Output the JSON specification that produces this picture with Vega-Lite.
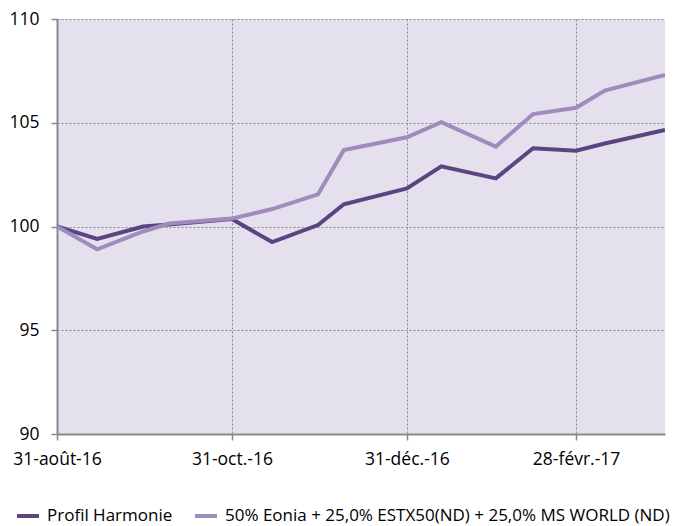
{
  "$schema": "https://vega.github.io/schema/vega-lite/v6.json",
  "autosize": {"type": "none"},
  "width": 608,
  "height": 415,
  "padding": {"left": 57, "top": 19, "right": 24, "bottom": 92},
  "background": "white",
  "config": {
    "view": {"fill": "#e4e0ee", "stroke": null},
    "font": "Open Sans"
  },
  "data": {
    "values": [
      {"date": "2016-08-31", "serie": "Profil Harmonie", "v": 100.0},
      {"date": "2016-09-14", "serie": "Profil Harmonie", "v": 99.4},
      {"date": "2016-09-30", "serie": "Profil Harmonie", "v": 100.0},
      {"date": "2016-10-09", "serie": "Profil Harmonie", "v": 100.1},
      {"date": "2016-10-31", "serie": "Profil Harmonie", "v": 100.36},
      {"date": "2016-11-14", "serie": "Profil Harmonie", "v": 99.25},
      {"date": "2016-11-30", "serie": "Profil Harmonie", "v": 100.07},
      {"date": "2016-12-09", "serie": "Profil Harmonie", "v": 101.07},
      {"date": "2016-12-31", "serie": "Profil Harmonie", "v": 101.84},
      {"date": "2017-01-12", "serie": "Profil Harmonie", "v": 102.9},
      {"date": "2017-01-31", "serie": "Profil Harmonie", "v": 102.32},
      {"date": "2017-02-13", "serie": "Profil Harmonie", "v": 103.77},
      {"date": "2017-02-28", "serie": "Profil Harmonie", "v": 103.65},
      {"date": "2017-03-10", "serie": "Profil Harmonie", "v": 104.0},
      {"date": "2017-03-31", "serie": "Profil Harmonie", "v": 104.65},
      {"date": "2016-08-31", "serie": "50% Eonia + 25,0% ESTX50(ND) + 25,0% MS WORLD (ND)", "v": 100.0},
      {"date": "2016-09-14", "serie": "50% Eonia + 25,0% ESTX50(ND) + 25,0% MS WORLD (ND)", "v": 98.9},
      {"date": "2016-09-30", "serie": "50% Eonia + 25,0% ESTX50(ND) + 25,0% MS WORLD (ND)", "v": 99.76},
      {"date": "2016-10-09", "serie": "50% Eonia + 25,0% ESTX50(ND) + 25,0% MS WORLD (ND)", "v": 100.14},
      {"date": "2016-10-31", "serie": "50% Eonia + 25,0% ESTX50(ND) + 25,0% MS WORLD (ND)", "v": 100.38},
      {"date": "2016-11-14", "serie": "50% Eonia + 25,0% ESTX50(ND) + 25,0% MS WORLD (ND)", "v": 100.84},
      {"date": "2016-11-30", "serie": "50% Eonia + 25,0% ESTX50(ND) + 25,0% MS WORLD (ND)", "v": 101.55},
      {"date": "2016-12-09", "serie": "50% Eonia + 25,0% ESTX50(ND) + 25,0% MS WORLD (ND)", "v": 103.68},
      {"date": "2016-12-31", "serie": "50% Eonia + 25,0% ESTX50(ND) + 25,0% MS WORLD (ND)", "v": 104.3},
      {"date": "2017-01-12", "serie": "50% Eonia + 25,0% ESTX50(ND) + 25,0% MS WORLD (ND)", "v": 105.03},
      {"date": "2017-01-31", "serie": "50% Eonia + 25,0% ESTX50(ND) + 25,0% MS WORLD (ND)", "v": 103.85},
      {"date": "2017-02-13", "serie": "50% Eonia + 25,0% ESTX50(ND) + 25,0% MS WORLD (ND)", "v": 105.42},
      {"date": "2017-02-28", "serie": "50% Eonia + 25,0% ESTX50(ND) + 25,0% MS WORLD (ND)", "v": 105.72},
      {"date": "2017-03-10", "serie": "50% Eonia + 25,0% ESTX50(ND) + 25,0% MS WORLD (ND)", "v": 106.55},
      {"date": "2017-03-31", "serie": "50% Eonia + 25,0% ESTX50(ND) + 25,0% MS WORLD (ND)", "v": 107.3}
    ]
  },
  "mark": {"type": "line", "strokeWidth": 4, "strokeJoin": "miter", "clip": true},
  "encoding": {
    "x": {
      "field": "date",
      "type": "temporal",
      "scale": {
        "type": "utc",
        "domain": [
          {"year": 2016, "month": 8, "date": 31, "utc": true},
          {"year": 2017, "month": 3, "date": 31, "utc": true}
        ]
      },
      "axis": {
        "title": null,
        "values": [
          {"year": 2016, "month": 8, "date": 31, "utc": true},
          {"year": 2016, "month": 10, "date": 31, "utc": true},
          {"year": 2016, "month": 12, "date": 31, "utc": true},
          {"year": 2017, "month": 2, "date": 28, "utc": true}
        ],
        "labelExpr": "utcdate(datum.value) + '-' + ['janv.','févr.','mars','avr.','mai','juin','juil.','août','sept.','oct.','nov.','déc.'][utcmonth(datum.value)] + '-' + utcFormat(datum.value, '%y')",
        "labelFont": "Open Sans",
        "labelFontSize": 17.5,
        "labelColor": "#000000",
        "labelPadding": 10,
        "labelFlush": false,
        "labelOverlap": false,
        "tickSize": 6,
        "tickColor": "#8a8a8a",
        "tickWidth": 1.5,
        "domainColor": "#8a8a8a",
        "domainWidth": 2,
        "grid": true,
        "gridColor": "#8a8a8a",
        "gridDash": [2, 2],
        "gridWidth": 1
      }
    },
    "y": {
      "field": "v",
      "type": "quantitative",
      "scale": {"domain": [90, 110], "nice": false, "zero": false},
      "axis": {
        "title": null,
        "values": [90, 95, 100, 105, 110],
        "labelFont": "Open Sans",
        "labelFontSize": 17.5,
        "labelColor": "#000000",
        "labelPadding": 12,
        "tickSize": 6,
        "tickColor": "#8a8a8a",
        "tickWidth": 1.5,
        "domainColor": "#8a8a8a",
        "domainWidth": 2,
        "grid": true,
        "gridColor": "#8a8a8a",
        "gridDash": [2, 2],
        "gridWidth": 1
      }
    },
    "color": {
      "field": "serie",
      "type": "nominal",
      "sort": ["Profil Harmonie", "50% Eonia + 25,0% ESTX50(ND) + 25,0% MS WORLD (ND)"],
      "scale": {
        "domain": ["Profil Harmonie", "50% Eonia + 25,0% ESTX50(ND) + 25,0% MS WORLD (ND)"],
        "range": ["#5b4581", "#a08bbd"]
      },
      "legend": {
        "title": null,
        "orient": "none",
        "direction": "horizontal",
        "legendX": -42,
        "legendY": 484,
        "padding": 0,
        "symbolType": "stroke",
        "symbolSize": 484,
        "symbolStrokeWidth": 4,
        "labelFont": "Open Sans",
        "labelFontSize": 17,
        "labelColor": "#000000",
        "labelOffset": 6,
        "columnPadding": 14,
        "labelLimit": 0
      }
    }
  }
}
